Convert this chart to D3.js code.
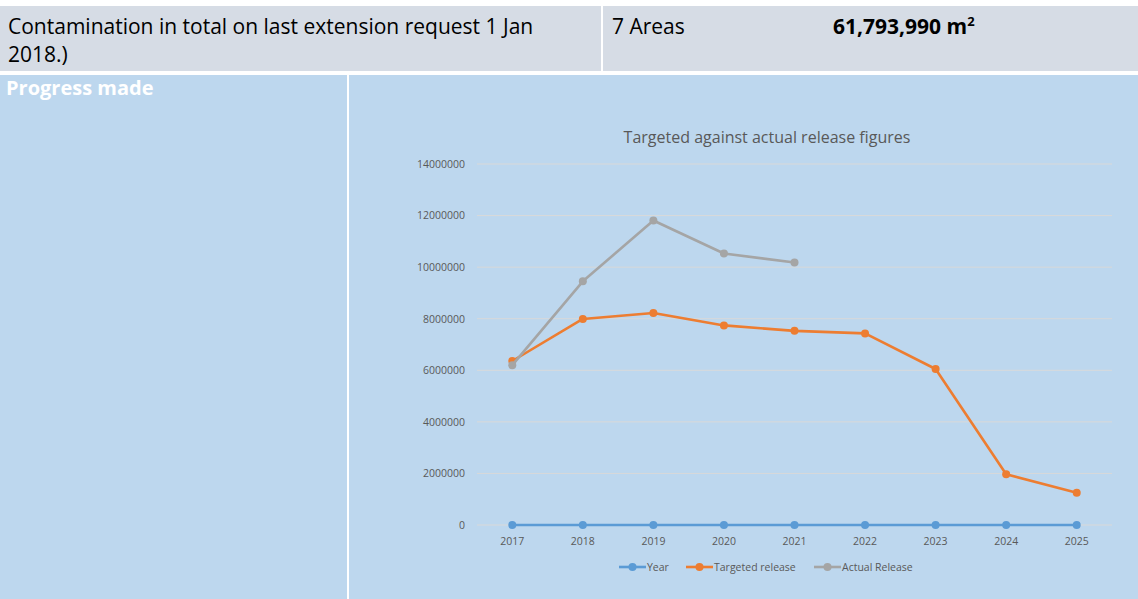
<!DOCTYPE html>
<html>
<head>
<meta charset="utf-8">
<script src="https://cdn.jsdelivr.net/npm/d3@7"></script>
<style>
  body { margin: 0; background: #fff; }
  svg { display: block; font-family: "Open Sans", sans-serif; }
</style>
</head>
<body>
<div id="chart"></div>
<script>
// Chart data
const years = ["2017", "2018", "2019", "2020", "2021", "2022", "2023", "2024", "2025"];
const yearValues = [2017, 2018, 2019, 2020, 2021, 2022, 2023, 2024, 2025];
const targeted = [6360000, 7990000, 8220000, 7740000, 7530000, 7430000, 6050000, 1970000, 1250000];
const actual = [6200000, 9450000, 11810000, 10530000, 10180000];
const yTicks = [0, 2000000, 4000000, 6000000, 8000000, 10000000, 12000000, 14000000];
const seriesNames = ["Year", "Targeted release", "Actual Release"];
const seriesColors = ["#5b9bd5", "#ed7d31", "#a5a5a5"];

const width = 1138;
const height = 599;

const svg = d3.select("#chart")
  .append("svg")
    .attr("width", width)
    .attr("height", height);

// Table background: header row and "Progress made" row
svg.append("rect")
    .attr("x", 0).attr("y", 6)
    .attr("width", width).attr("height", 65)
    .attr("fill", "#d6dce5");
svg.append("rect")
    .attr("x", 0).attr("y", 75)
    .attr("width", width).attr("height", height - 75)
    .attr("fill", "#bdd7ee");
svg.append("rect")
    .attr("x", 601).attr("y", 6)
    .attr("width", 2).attr("height", 65)
    .attr("fill", "#fff");
svg.append("rect")
    .attr("x", 347).attr("y", 75)
    .attr("width", 2).attr("height", height - 75)
    .attr("fill", "#fff");

// Header text
const head = svg.append("g").attr("fill", "#000").style("font-size", "21px");
head.append("text").attr("x", 8).attr("y", 34)
    .text("Contamination in total on last extension request 1 Jan");
head.append("text").attr("x", 8).attr("y", 62).text("2018.)");
head.append("text").attr("x", 612).attr("y", 34).text("7 Areas");
const area = head.append("text").attr("x", 833).attr("y", 34)
    .style("font-weight", "bold").text("61,793,990 m");
area.append("tspan").attr("dy", -8).style("font-size", "13px").text("2");

svg.append("text")
    .attr("x", 6).attr("y", 95)
    .attr("fill", "#fff")
    .style("font-size", "20px")
    .style("font-weight", "bold")
    .text("Progress made");

// Chart
const plot = { left: 477, right: 1112, top: 164, bottom: 525 };

const x = d3.scaleBand()
    .domain(years)
    .range([plot.left, plot.right]);

const y = d3.scaleLinear()
    .domain([0, 14000000])
    .range([plot.bottom, plot.top]);

svg.append("text")
    .attr("x", 767).attr("y", 143)
    .attr("text-anchor", "middle")
    .attr("fill", "#595959")
    .style("font-size", "16px")
    .text("Targeted against actual release figures");

// gridlines
svg.append("g")
  .selectAll("line")
  .data(yTicks)
  .join("line")
    .attr("x1", plot.left).attr("x2", plot.right)
    .attr("y1", d => y(d)).attr("y2", d => y(d))
    .attr("stroke", "#d9d9d9")
    .attr("stroke-width", 1);

const yAxis = svg.append("g")
    .attr("transform", `translate(${plot.left - 9},0)`)
    .call(d3.axisLeft(y).tickValues(yTicks).tickFormat(d3.format("d")).tickSize(0));
yAxis.select(".domain").remove();
yAxis.selectAll("text")
    .attr("fill", "#595959")
    .style("font-size", "10.5px")
    .style("font-family", "Open Sans, sans-serif");

const xAxis = svg.append("g")
    .attr("transform", `translate(0,${plot.bottom + 10})`)
    .call(d3.axisBottom(x).tickSize(0));
xAxis.select(".domain").remove();
xAxis.selectAll("text")
    .attr("fill", "#595959")
    .style("font-size", "10.5px")
    .style("font-family", "Open Sans, sans-serif");

const cx = i => x(years[i]) + x.bandwidth() / 2;
const line = d3.line()
    .x((d, i) => cx(i))
    .y(d => y(d));

const series = [yearValues, targeted, actual];

series.forEach((values, s) => {
  svg.append("path")
      .datum(values)
      .attr("d", line)
      .attr("fill", "none")
      .attr("stroke", seriesColors[s])
      .attr("stroke-width", 2.6)
      .attr("stroke-linejoin", "round");
  svg.append("g")
    .selectAll("circle")
    .data(values)
    .join("circle")
      .attr("cx", (d, i) => cx(i))
      .attr("cy", d => y(d))
      .attr("r", 4)
      .attr("fill", seriesColors[s]);
});

// Legend
const legendX = [619, 686, 814];
const legend = svg.append("g").attr("transform", "translate(0,567)");
seriesNames.forEach((name, s) => {
  const g = legend.append("g").attr("transform", `translate(${legendX[s]},0)`);
  g.append("line")
      .attr("x1", 0).attr("x2", 27)
      .attr("stroke", seriesColors[s])
      .attr("stroke-width", 2.6);
  g.append("circle")
      .attr("cx", 13.5).attr("r", 4)
      .attr("fill", seriesColors[s]);
  g.append("text")
      .attr("x", 28).attr("y", 4)
      .attr("fill", "#595959")
      .style("font-size", "10.5px")
      .text(name);
});
</script>
</body>
</html>
